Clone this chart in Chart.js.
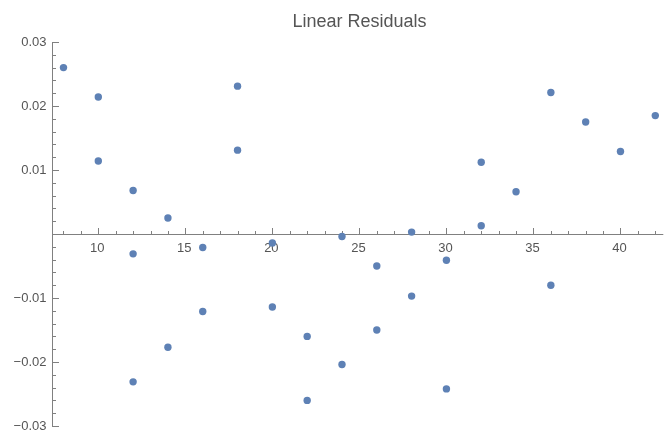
<!DOCTYPE html>
<html>
<head>
<meta charset="utf-8">
<script src="https://cdn.jsdelivr.net/npm/chart.js@4.4.1/dist/chart.umd.min.js"></script>
<style>
  html, body { margin: 0; padding: 0; background: #ffffff; }
  #wrap { width: 667px; height: 435px; }
</style>
</head>
<body>
<div id="wrap"><canvas id="c" width="667" height="435"></canvas></div>
<script>
// ---- data ----
const titleText = "Linear Residuals";
const xValues = [8, 10, 10, 12, 12, 12, 14, 14, 16, 16, 18, 18, 20, 20, 22, 22,
                 24, 24, 26, 26, 28, 28, 30, 30, 32, 32, 34, 36, 36, 38, 40, 42];
const residuals = [0.0260, 0.0214, 0.0114, 0.0068, -0.0031, -0.0231, 0.0025, -0.0177,
                   -0.0021, -0.0121, 0.0231, 0.0131, -0.0014, -0.0114, -0.0160, -0.0260,
                   -0.0004, -0.0204, -0.0050, -0.0150, 0.0003, -0.0097, -0.0041, -0.0242,
                   0.0112, 0.0013, 0.0066, 0.0221, -0.0080, 0.0175, 0.0129, 0.0185];
const xTickValues = [10, 15, 20, 25, 30, 35, 40];
const xTickLabels = ["10", "15", "20", "25", "30", "35", "40"];
const yTickValues = [0.03, 0.02, 0.01, -0.01, -0.02, -0.03];
const yTickLabels = ["0.03", "0.02", "0.01", "\u22120.01", "\u22120.02", "\u22120.03"];
const xRange = [7.34, 42.46];
const yRange = [-0.03, 0.03];
const xMinorStep = 1;
const yMinorStep = 0.002;

// ---- styles ----
const pointColor = "rgb(94,129,181)";
const axisColor = "#808080";
const textColor = "#555555";
const fontFamily = "'Liberation Sans', Arial, Helvetica, sans-serif";

const axesPlugin = {
  id: "mmaAxes",
  beforeDatasetsDraw(chart) {
    const ctx = chart.ctx;
    const xs = chart.scales.x, ys = chart.scales.y;
    const ax = Math.round(xs.getPixelForValue(xRange[0])) + 0.5;
    const ay = Math.round(ys.getPixelForValue(0)) + 0.5;
    ctx.save();
    ctx.strokeStyle = axisColor;
    ctx.lineWidth = 1;
    // axis lines
    ctx.beginPath();
    ctx.moveTo(ax, ay); ctx.lineTo(xs.right, ay);
    ctx.moveTo(ax, Math.round(ys.getPixelForValue(yRange[1])));
    ctx.lineTo(ax, Math.round(ys.getPixelForValue(yRange[0])) + 1);
    ctx.stroke();
    // x ticks (major and minor)
    ctx.beginPath();
    for (let v = Math.ceil(xRange[0]); v <= xRange[1] + 1e-9; v += xMinorStep) {
      const px = Math.round(xs.getPixelForValue(v)) + 0.5;
      const major = xTickValues.includes(v);
      ctx.moveTo(px, ay);
      ctx.lineTo(px, ay - (major ? 6.5 : 3.5));
    }
    // y ticks (major and minor)
    const nY = Math.round((yRange[1] - yRange[0]) / yMinorStep);
    for (let i = 0; i <= nY; i++) {
      const v = yRange[0] + i * yMinorStep;
      if (Math.abs(v) < 1e-9) continue;
      const py = Math.round(ys.getPixelForValue(v)) + 0.5;
      const major = yTickValues.some(t => Math.abs(t - v) < 1e-9);
      ctx.moveTo(ax, py);
      ctx.lineTo(ax + (major ? 6.5 : 3.5), py);
    }
    ctx.stroke();
    // tick labels
    ctx.fillStyle = textColor;
    ctx.font = "13px " + fontFamily;
    ctx.textAlign = "center";
    ctx.textBaseline = "middle";
    xTickValues.forEach((v, i) => {
      ctx.fillText(xTickLabels[i], xs.getPixelForValue(v) - 1, ay + 14);
    });
    ctx.textAlign = "right";
    yTickValues.forEach((v, i) => {
      ctx.fillText(yTickLabels[i], ax - 6, ys.getPixelForValue(v));
    });
    ctx.restore();
  }
};

new Chart(document.getElementById("c"), {
  type: "scatter",
  data: {
    datasets: [{
      data: xValues.map((x, i) => ({ x: x, y: residuals[i] })),
      backgroundColor: pointColor,
      borderColor: pointColor,
      borderWidth: 0,
      pointRadius: 3.7,
      pointHoverRadius: 3.7
    }]
  },
  options: {
    responsive: false,
    animation: false,
    devicePixelRatio: 1,
    layout: { padding: { left: 52, right: 0, top: 0, bottom: 9 } },
    plugins: {
      legend: { display: false },
      tooltip: { enabled: false },
      title: {
        display: true,
        text: titleText,
        color: textColor,
        font: { family: fontFamily, size: 18, weight: "normal", lineHeight: 1.2 },
        padding: { top: 11, bottom: 9.4 }
      }
    },
    scales: {
      x: { type: "linear", min: xRange[0], max: xRange[1], display: false },
      y: { type: "linear", min: yRange[0], max: yRange[1], display: false }
    }
  },
  plugins: [axesPlugin]
});
</script>
</body>
</html>
